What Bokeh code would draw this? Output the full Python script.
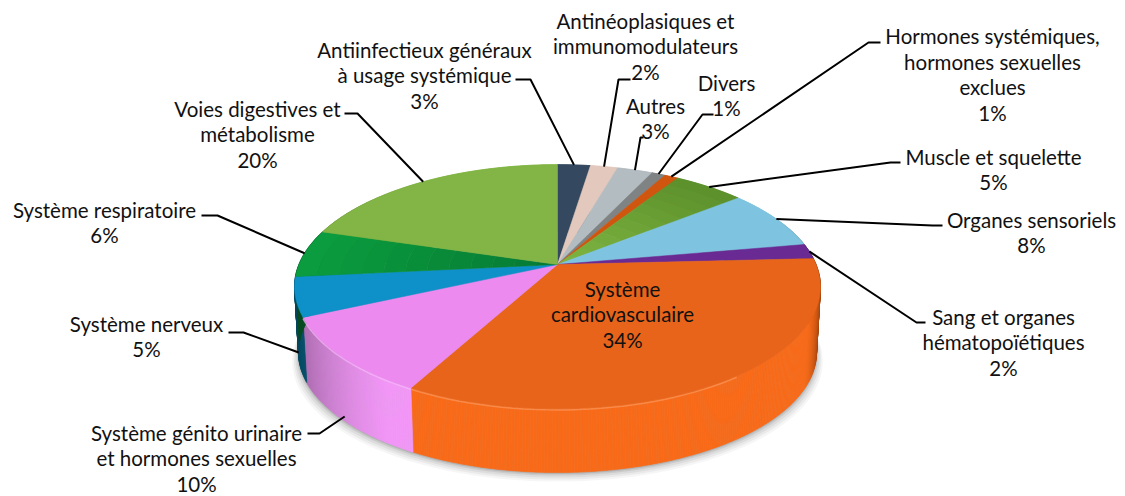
from math import sin, cos, pi
from bokeh.plotting import figure
from bokeh.models import Range1d
from bokeh.core.properties import value
from bokeh.embed import file_html
from bokeh.resources import INLINE

# ---- data (clockwise from 12 o'clock) ----
categories = ["Antiinfectieux généraux\nà usage systémique", "Antinéoplasiques et\nimmunomodulateurs",
              "Autres", "Divers", "Hormones systémiques,\nhormones sexuelles\nexclues",
              "Muscle et squelette", "Organes sensoriels", "Sang et organes\nhématopoïétiques",
              "Système\ncardiovasculaire", "Système génito urinaire\net hormones sexuelles",
              "Système nerveux", "Système respiratoire", "Voies digestives et\nmétabolisme"]
shares = [2.4, 2.0, 2.6, 1.0, 1.0, 5.2, 8.0, 2.0, 33.7, 10.3, 5.2, 6.3, 20.3]
pct_labels = ["3%", "2%", "3%", "1%", "1%", "5%", "8%", "2%", "34%", "10%", "5%", "6%", "20%"]

# ---- styles ----
outer_cols = ["#34495f", "#e2c8bd", "#b3bcc0", "#7f8383", "#d0560f", "#5a8f2b", "#7ec4e0", "#6a2a94",
              "#e8641a", "#ec8aef", "#0e90c8", "#0a9d3e", "#82b545"]
inner_cols = ["#34495f", "#e2c8bd", "#b3bcc0", "#7f8383", "#d0560f", "#7fb541", "#7ec4e0", "#6a2a94",
              "#e8641a", "#ec8aef", "#0e90c8", "#067a34", "#82b545"]
side_cols = ["#34495f", "#e2c8bd", "#b3bcc0", "#7f8383", "#d0560f", "#5a8f2b", "#7ec4e0", "#6a2a94",
             "#f86a18", "#f296f7", "#0a6f95", "#0a7a35", "#82b545"]
label_pos = [(424, 75), (645, 46), (655, 118), (726, 95), (992, 74), (993, 169), (1031, 232), (1003, 342),
             (622, 314), (196, 458), (146, 336), (104, 222), (257, 134)]
leader_ends = [[(530, 79), (515, 79)], [(618, 79), (630, 79)], [(640, 137), (643, 137)],
               [(702, 114), (713, 114)], [(868, 42), (880, 42)], [(890, 162), (900, 162)],
               [(932, 225), (942, 225)], [(916, 322), (925, 322)], None,
               [(319, 433), (307, 433)], [(243, 332), (228, 332)], [(217, 215), (201, 215)],
               [(357, 113), (344, 113)]]
leader_drop = [0, 0, 0, 0, 0, 0, 0, 0, 0, 0.93, 0.85, 0, 0]

CX, CY, R, H, K, DZ, S2 = 557, 264, 258.6, 118, 0.1818, 66, 0.985
W, HT = 1125, 496


def pt(r, th, drop=0.0):
    X, Y = r * sin(th), r * cos(th)
    d = 1 + K * Y
    x, y = R * X / d, -H * Y / d
    s = 1 - (1 - S2) * drop
    return CX + x * s, CY + y * s + DZ * drop


def hex2rgb(c):
    return tuple(int(c[i:i + 2], 16) for i in (1, 3, 5))


def rgb2hex(c):
    return "#%02x%02x%02x" % tuple(max(0, min(255, int(round(v)))) for v in c)


def mix(a, b, f):
    A, B = hex2rgb(a), hex2rgb(b)
    return rgb2hex([A[i] + (B[i] - A[i]) * f for i in range(3)])


def shade(c, th):
    u = sin(th)
    if u > 0:
        f = max(0, (u - 0.88) / 0.12)
        k = 1 - 0.5 * f ** 1.5
    else:
        f = max(0, (-u - 0.55) / 0.45)
        k = 1 - 0.38 * f ** 1.4
    return rgb2hex([v * k for v in hex2rgb(c)])


total = sum(shares)
bounds = [0.0]
for v in shares:
    bounds.append(bounds[-1] + v / total * 2 * pi)

p = figure(width=W, height=HT, x_range=Range1d(0, W), y_range=Range1d(HT, 0),
           toolbar_location=None, output_backend="svg", min_border=0,
           outline_line_color=None, background_fill_color="white", border_fill_color="white")
p.axis.visible = False
p.grid.visible = False

# soft shadow under the disc
ring = [i / 180 * pi for i in range(361)]
for off, sc, al in [(9, 1.024, 0.05), (7, 1.018, 0.07), (5, 1.012, 0.09), (3, 1.006, 0.13), (1.5, 1.002, 0.18)]:
    xs, ys = [], []
    for t in ring:
        x, y = pt(1, t, 1)
        xs.append(CX + (x - CX) * sc)
        ys.append(y + off)
    p.patch(xs, ys, fill_color="#555555", fill_alpha=al, line_color=None)

# side wall
xs, ys, cs = [], [], []
for i in range(len(shares)):
    a0, a1 = bounds[i], bounds[i + 1]
    n = max(2, int((a1 - a0) / (pi / 360)))
    for j in range(n):
        t0 = a0 + (a1 - a0) * j / n
        t1 = a0 + (a1 - a0) * (j + 1) / n
        q = [pt(1, t0), pt(1, t1), pt(1, t1, 1), pt(1, t0, 1)]
        xs.append([c[0] for c in q])
        ys.append([c[1] for c in q])
        cs.append(shade(side_cols[i], (t0 + t1) / 2))
p.patches(xs, ys, fill_color=cs, line_color=cs, line_width=0.6)

# top face
xs, ys, cs = [], [], []
for i in range(len(shares)):
    a0, a1 = bounds[i], bounds[i + 1]
    n = max(3, int((a1 - a0) / (pi / 90)))
    arc = [a0 + (a1 - a0) * j / n for j in range(n + 1)]
    bands = 12 if outer_cols[i] != inner_cols[i] else 1
    for b in range(bands):
        r0, r1 = b / bands, (b + 1) / bands
        q = [pt(r1, t) for t in arc] + [pt(r0, t) for t in reversed(arc)]
        xs.append([c[0] for c in q])
        ys.append([c[1] for c in q])
        cs.append(mix(inner_cols[i], outer_cols[i], (b + 0.5) / bands))
p.patches(xs, ys, fill_color=cs, line_color=cs, line_width=0.5)

# bevel highlight along the front rim
for i in range(8, 10):
    a0, a1 = bounds[i], bounds[i + 1]
    n = 60
    arc = [a0 + (a1 - a0) * j / n for j in range(n + 1)]
    q = [pt(1, t, 0.02) for t in arc if sin(t) < 0.6]
    p.line([c[0] for c in q], [c[1] for c in q], line_color=mix(side_cols[i], "#ffffff", 0.3), line_width=1.5, line_alpha=0.7)

# leader lines
lx, ly = [], []
for i, ends in enumerate(leader_ends):
    if ends is None:
        continue
    start = pt(1, (bounds[i] + bounds[i + 1]) / 2, leader_drop[i])
    path = [start] + ends
    lx.append([c[0] for c in path])
    ly.append([c[1] for c in path])
p.multi_line(lx, ly, line_color="black", line_width=2)

# labels
texts = [c + "\n" + v for c, v in zip(categories, pct_labels)]
p.text([c[0] for c in label_pos], [c[1] for c in label_pos], text=texts,
       text_font=value("Lato"), text_font_size="20.5px", text_color="#111111",
       text_align="center", text_baseline="middle", text_line_height=1.06)

open("out.html", "w").write(file_html(p, INLINE))
